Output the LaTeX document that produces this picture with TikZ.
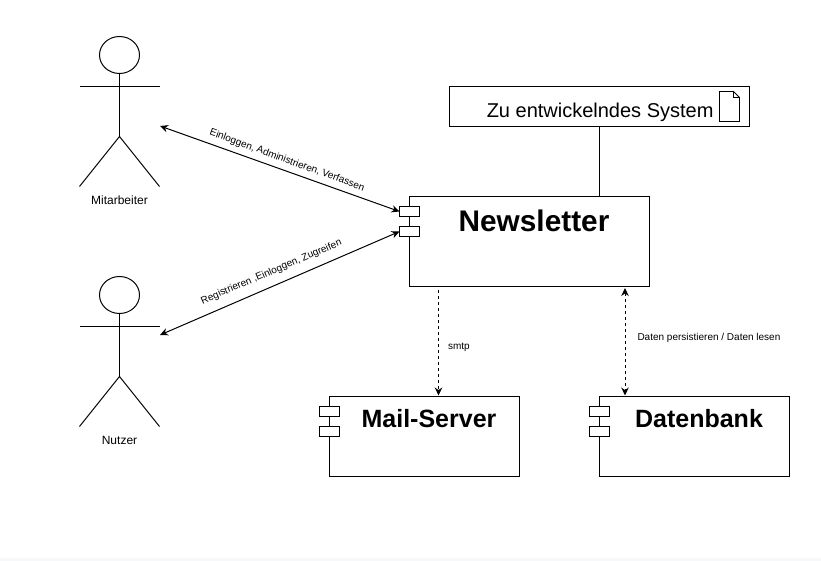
\documentclass[tikz,border=0pt]{standalone}
\usepackage{fontspec}
\setmainfont{Liberation Sans}
\usetikzlibrary{arrows.meta,shapes.geometric}
\tikzset{
  ln/.style={line width=1pt,draw=black},
  box/.style={ln,rectangle,fill=white,inner sep=0pt,outer sep=0pt},
  comp/.style={box,anchor=north west},
  port/.style={box,minimum width=20pt,minimum height=10pt},
  head/.style={ln,ellipse,inner sep=0pt,outer sep=0pt,minimum width=40pt,minimum height=37pt},
  lbl/.style={inner sep=0pt,outer sep=0pt,text=black},
  conn/.style={ln,{Stealth[length=8pt,width=7.5pt]}-{Stealth[length=8pt,width=7.5pt]}},
  connd/.style={ln,dash pattern=on 3pt off 3pt,shorten >=1pt},
  tipd/.style={{Stealth[length=8pt,width=7.5pt]}-{Stealth[length=8pt,width=7.5pt]}},
  tipe/.style={-{Stealth[length=8pt,width=7.5pt]}}
}
\begin{document}
\begin{tikzpicture}[x=1pt,y=-1pt]
\useasboundingbox (0,0) rectangle (821,561);
\fill[white] (0,0) rectangle (821,561);
\fill[fill={rgb,255:red,246;green,248;blue,250}] (0,558) rectangle (821,561);

% system box and note icon
\node[comp,minimum width=300pt,minimum height=40pt] (sys) at (449.5,86.5) {};
\node[lbl,anchor=base east,font=\fontsize{20}{24}\selectfont] (systxt) at (713.5,117.5) {Zu entwickelndes System};
\draw[ln,line width=0.8pt] (719.5,91.5) -- (733.5,91.5) -- (739.5,97.5) -- (739.5,121.5) -- (719.5,121.5) -- cycle;
\draw[ln,line width=0.8pt] (733.5,91.5) -- (733.5,97.5) -- (739.5,97.5);

% components
\node[comp,minimum width=240pt,minimum height=90pt] (nl) at (409.5,196.5) {};
\node[comp,minimum width=190pt,minimum height=80pt] (mail) at (329.5,396.5) {};
\node[comp,minimum width=190pt,minimum height=80pt] (db) at (599.5,396.5) {};

\node[port] (nlA) at (409.5,211.5) {};
\node[port] (nlB) at (409.5,231.5) {};
\node[port] (mailA) at (329.5,411.5) {};
\node[port] (mailB) at (329.5,431.5) {};
\node[port] (dbA) at (599.5,411.5) {};
\node[port] (dbB) at (599.5,431.5) {};

\node[lbl,anchor=base,font=\fontsize{29.8}{34}\selectfont\bfseries] (nltxt) at (534,232) {Newsletter};
\node[lbl,anchor=base,font=\fontsize{25}{30}\selectfont\bfseries] (mailtxt) at (429,427) {Mail-Server};
\node[lbl,anchor=base,font=\fontsize{25}{30}\selectfont\bfseries] (dbtxt) at (699,427) {Datenbank};

\coordinate (sysdrop) at (599.5,126.5);
\draw[ln] (sysdrop) -- (sysdrop |- nl.north);

% actors
\node[head] (h1) at (119.5,55) {};
\coordinate (a1hip) at (119.5,136.5);
\coordinate (a1l) at (79.5,86.5);
\coordinate (a1r) at (159.5,86.5);
\coordinate (a1fl) at (79.5,186.5);
\coordinate (a1fr) at (159.5,186.5);
\draw[ln] (h1.south) -- (a1hip);
\draw[ln] (a1l) -- (a1r);
\draw[ln] (a1fl) -- (a1hip) -- (a1fr);
\node[lbl,font=\fontsize{12}{14}\selectfont] (m) at (119.5,200) {Mitarbeiter};

\node[head] (h2) at (119.5,295) {};
\coordinate (a2hip) at (119.5,376.5);
\coordinate (a2l) at (79.5,326.5);
\coordinate (a2r) at (159.5,326.5);
\coordinate (a2fl) at (79.5,426.5);
\coordinate (a2fr) at (159.5,426.5);
\draw[ln] (h2.south) -- (a2hip);
\draw[ln] (a2l) -- (a2r);
\draw[ln] (a2fl) -- (a2hip) -- (a2fr);
\node[lbl,font=\fontsize{12}{14}\selectfont] (n) at (119.5,440) {Nutzer};

% connectors
\coordinate (e1) at (160,126);
\coordinate (e2) at (160,335);
\draw[conn] (e1) -- (nlA.west);
\draw[conn] (e2) -- (nlB.west);
\node[lbl,font=\fontsize{10}{12}\selectfont,rotate=-20] (t1) at (287,160.5) {Einloggen, Administrieren, Verfassen};
\node[lbl,font=\fontsize{10}{12}\selectfont,rotate=23] (t2) at (271.5,272) {Registrieren ,Einloggen, Zugreifen};

\coordinate (s1) at (438.5,290);
\draw[connd,tipe] (s1) -- (s1 |- mail.north);
\node[lbl,font=\fontsize{10}{12}\selectfont,anchor=west] (t3) at (448,347.5) {smtp};

\coordinate (d1) at (625,288);
\draw[connd,tipd] (d1) -- (d1 |- db.north);
\node[lbl,font=\fontsize{10}{12}\selectfont,anchor=west] (t4) at (637.5,337.5) {Daten persistieren / Daten lesen};
\end{tikzpicture}
\end{document}
